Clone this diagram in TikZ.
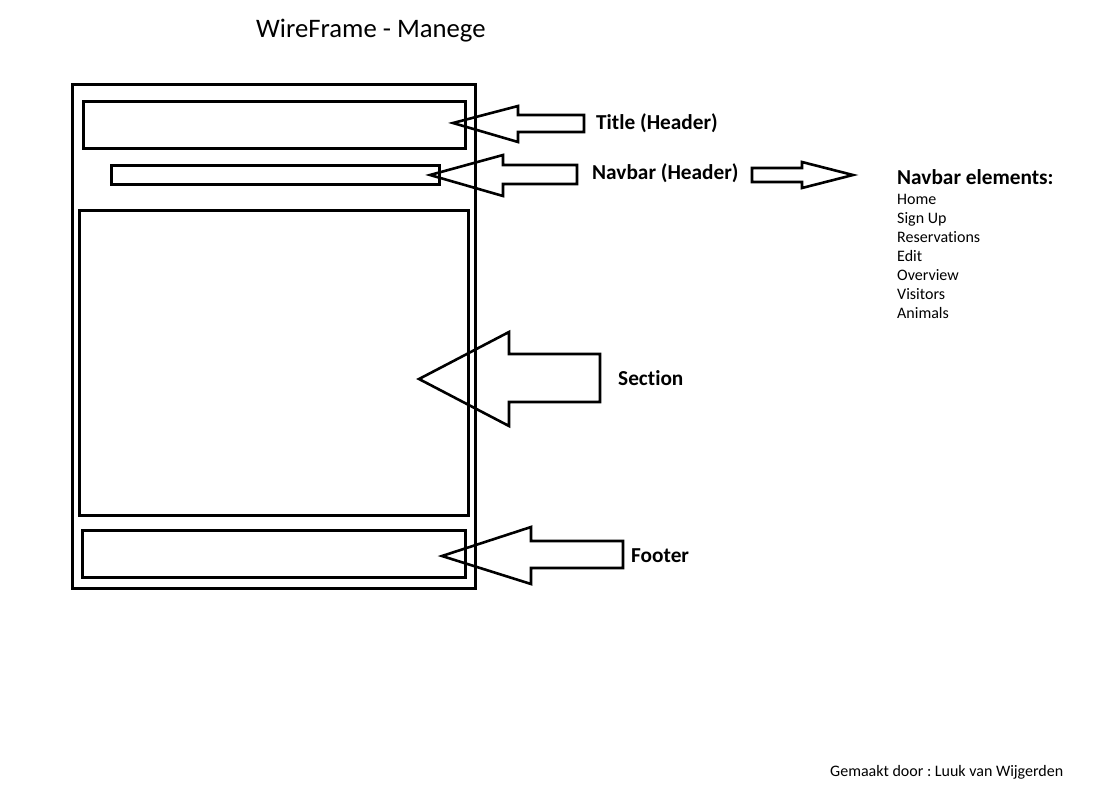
\documentclass[tikz,border=0pt]{standalone}
\usepackage{fontspec}
\setmainfont{Carlito}[Ligatures={NoCommon}]
\frenchspacing
\begin{document}
\begin{tikzpicture}[x=1pt,y=-1pt,
  box/.style={draw=black,line width=3pt},
  blockarrow/.style={draw=black,line width=2.6pt,line join=miter,fill=none},
  lbl/.style={anchor=base west,inner sep=0pt,font=\fontsize{21.3}{23}\selectfont\bfseries},
  item/.style={anchor=base west,inner sep=0pt,font=\fontsize{16}{18}\selectfont}]
\useasboundingbox (0,0) rectangle (1093,809);
% title
\node[anchor=base west,inner sep=0pt,font=\fontsize{26.7}{28}\selectfont] (title) at (256,37.5) {WireFrame - Manege};
% wireframe boxes
\draw[box] (72,84) rectangle (475,588);
\draw[box] (83,101) rectangle (465,148);
\draw[box] (111,165) rectangle (439,184);
\draw[box] (79,210) rectangle (468,515);
\draw[box] (82,530) rectangle (465,577);
% arrows
\draw[blockarrow] (453,123) -- (518,106) -- (518,115) -- (584,115) -- (584,132) -- (518,132) -- (518,142) -- cycle;
\draw[blockarrow] (430,175) -- (503,155) -- (503,165) -- (577,165) -- (577,184) -- (503,184) -- (503,196) -- cycle;
\draw[blockarrow] (853,175) -- (802,162) -- (802,168) -- (752,168) -- (752,182) -- (802,182) -- (802,188) -- cycle;
\draw[blockarrow] (419,379) -- (509,332) -- (509,354) -- (600,354) -- (600,402) -- (509,402) -- (509,426) -- cycle;
\draw[blockarrow] (442,556) -- (531,527) -- (531,541) -- (623,541) -- (623,568) -- (531,568) -- (531,584) -- cycle;
% labels
\node[lbl] (ltitle) at (596,129) {Title (Header)};
\node[lbl] (lnav) at (592,179) {Navbar (Header)};
\node[lbl] (lsection) at (618,385) {Section};
\node[lbl] (lfooter) at (631,562) {Footer};
\node[lbl] (lelems) at (897,184) {Navbar elements:};
\node[item] (i1) at (897,204) {Home};
\node[item] (i2) at (897,223) {Sign Up};
\node[item] (i3) at (897,242) {Reservations};
\node[item] (i4) at (897,261) {Edit};
\node[item] (i5) at (897,280) {Overview};
\node[item] (i6) at (897,299) {Visitors};
\node[item] (i7) at (897,318) {Animals};
\node[item] (credit) at (830,776) {Gemaakt door : Luuk van Wijgerden};
\end{tikzpicture}
\end{document}
